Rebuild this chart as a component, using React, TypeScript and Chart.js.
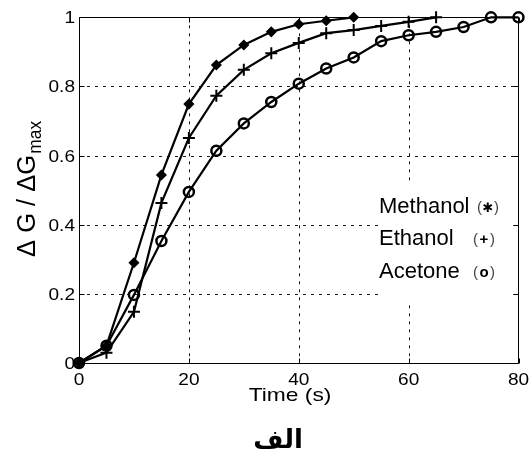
import React, { useEffect, useRef } from "react";
import { Chart, registerables } from "chart.js";

Chart.register(...registerables);

// ---------- data ----------
const timeMethanol = [0, 5, 10, 15, 20, 25, 30, 35, 40, 45, 50];
const methanol = [0, 0.05, 0.29, 0.544, 0.749, 0.862, 0.92, 0.958, 0.98, 0.99, 1.0];

const timeEthanol = [0, 5, 10, 15, 20, 25, 30, 35, 40, 45, 50, 55, 60, 65];
const ethanol = [0, 0.03, 0.148, 0.463, 0.651, 0.773, 0.848, 0.896, 0.926, 0.954, 0.963, 0.975, 0.987, 1.0];

const timeAcetone = [0, 5, 10, 15, 20, 25, 30, 35, 40, 45, 50, 55, 60, 65, 70, 75, 80];
const acetone = [0, 0.05, 0.197, 0.353, 0.495, 0.614, 0.693, 0.755, 0.808, 0.852, 0.884, 0.931, 0.948, 0.958, 0.972, 1.0, 1.0];

const xTicks = [0, 20, 40, 60, 80];
const xTickLabels = ["0", "20", "40", "60", "80"];
const yTicks = [0, 0.2, 0.4, 0.6, 0.8, 1];
const yTickLabels = ["0", "0.2", "0.4", "0.6", "0.8", "1"];

const xTitle = "Time (s)";
const yTitleMain = "Δ G / ΔG";
const yTitleSub = "max";
const legendNames = ["Methanol", "Ethanol", "Acetone"];
const legendSymbols = ["✱", "+", "o"];
const caption = "الف";

// ---------- helpers ----------
const FONT = '"Liberation Sans", Arial, sans-serif';

function drawText(
  ctx: CanvasRenderingContext2D,
  text: string,
  x: number,
  y: number,
  font: string,
  align: "left" | "center" | "right",
  sx = 1,
  color = "#000"
) {
  ctx.save();
  ctx.font = font;
  const w = ctx.measureText(text).width * sx;
  let left = x;
  if (align === "center") left = x - w / 2;
  else if (align === "right") left = x - w;
  ctx.translate(left, y);
  ctx.scale(sx, 1);
  ctx.textAlign = "left";
  ctx.textBaseline = "alphabetic";
  ctx.fillStyle = color;
  ctx.fillText(text, 0, 0);
  ctx.restore();
}

const decorPlugin = {
  id: "decor",
  beforeDatasetsDraw(chart: any) {
    const { ctx, chartArea: a, scales } = chart;
    const xs = scales.x;
    const ys = scales.y;
    ctx.save();
    // dotted grid
    ctx.strokeStyle = "#1a1a1a";
    ctx.lineWidth = 1;
    ctx.setLineDash([3, 5]);
    xTicks.forEach((v) => {
      if (v === xs.min || v === xs.max) return;
      const px = Math.round(xs.getPixelForValue(v)) + 0.5;
      ctx.beginPath();
      ctx.moveTo(px, a.top);
      ctx.lineTo(px, a.bottom);
      ctx.stroke();
    });
    yTicks.forEach((v) => {
      if (v === ys.min || v === ys.max) return;
      const py = Math.round(ys.getPixelForValue(v)) + 0.5;
      ctx.beginPath();
      ctx.moveTo(a.left, py);
      ctx.lineTo(a.right, py);
      ctx.stroke();
    });
    ctx.setLineDash([]);
    // legend box (white, hides grid)
    ctx.fillStyle = "#fff";
    ctx.fillRect(378, 185, a.right - 378 - 5, 116);
    // legend text
    const rowsY = [212.5, 245, 278];
    const symX = [488, 484, 484];
    legendNames.forEach((n, i) => {
      drawText(ctx, n, 379, rowsY[i], `22px ${FONT}`, "left");
      const cx = symX[i];
      const by = rowsY[i] - 1;
      drawText(ctx, "(", cx - 6, by, `15px ${FONT}`, "right", 1, "#444");
      drawText(ctx, ")", cx + 6, by, `15px ${FONT}`, "left", 1, "#444");
      drawText(
        ctx,
        legendSymbols[i],
        cx,
        by,
        i === 0 ? `bold 13px "DejaVu Sans", sans-serif` : `bold 15px ${FONT}`,
        "center",
        1,
        "#000"
      );
    });
    ctx.restore();
  },
  afterDatasetsDraw(chart: any) {
    const { ctx, chartArea: a, scales } = chart;
    const xs = scales.x;
    const ys = scales.y;
    ctx.save();
    ctx.strokeStyle = "#000";
    ctx.lineWidth = 1;
    const L = Math.round(a.left) + 0.5;
    const R = Math.round(a.right) - 0.5;
    const T = Math.round(a.top) + 0.5;
    const B = Math.round(a.bottom) + 0.5;
    ctx.beginPath();
    ctx.rect(L, T, R - L, B - T);
    ctx.stroke();
    // inward ticks
    const tl = 5;
    xTicks.forEach((v) => {
      const px = Math.round(xs.getPixelForValue(v)) + 0.5;
      ctx.beginPath();
      ctx.moveTo(px, B);
      ctx.lineTo(px, B - tl);
      ctx.moveTo(px, T);
      ctx.lineTo(px, T + tl);
      ctx.stroke();
    });
    yTicks.forEach((v) => {
      const py = Math.round(ys.getPixelForValue(v)) + 0.5;
      ctx.beginPath();
      ctx.moveTo(L, py);
      ctx.lineTo(L + tl, py);
      ctx.moveTo(R, py);
      ctx.lineTo(R - tl, py);
      ctx.stroke();
    });
    ctx.restore();
  },
  afterDraw(chart: any) {
    const { ctx, chartArea: a, scales } = chart;
    const xs = scales.x;
    const ys = scales.y;
    // tick labels
    xTicks.forEach((v, i) => {
      drawText(ctx, xTickLabels[i], xs.getPixelForValue(v), 385, `17px ${FONT}`, "center", 1.12);
    });
    yTicks.forEach((v, i) => {
      drawText(ctx, yTickLabels[i], a.left - 4, ys.getPixelForValue(v) + 6, `17px ${FONT}`, "right", 1.12);
    });
    // x title
    drawText(ctx, xTitle, 290, 401, `19px ${FONT}`, "center", 1.2);
    // y title with subscript
    ctx.save();
    const mainFont = `22px ${FONT}`;
    const subFont = `15px ${FONT}`;
    ctx.font = mainFont;
    const mw = ctx.measureText(yTitleMain).width;
    ctx.font = subFont;
    const sw = ctx.measureText(yTitleSub).width;
    const along = 135 / (mw + sw);
    const across = 1.2;
    ctx.translate(35, 257);
    ctx.rotate(-Math.PI / 2);
    ctx.scale(along, across);
    ctx.fillStyle = "#000";
    ctx.textAlign = "left";
    ctx.textBaseline = "alphabetic";
    ctx.font = mainFont;
    ctx.fillText(yTitleMain, 0, 0);
    ctx.font = subFont;
    ctx.fillText(yTitleSub, mw + 1, 6 / across);
    ctx.restore();
    // caption
    ctx.save();
    ctx.font = `bold 26px "DejaVu Sans", sans-serif`;
    ctx.fillStyle = "#000";
    ctx.textAlign = "center";
    ctx.textBaseline = "alphabetic";
    ctx.direction = "rtl";
    ctx.fillText(caption, 278, 448);
    ctx.restore();
  },
};

function toPoints(xv: number[], yv: number[]) {
  return xv.map((x, i) => ({ x, y: yv[i] }));
}

export default function App() {
  const ref = useRef<HTMLCanvasElement | null>(null);

  useEffect(() => {
    if (!ref.current) return;
    const common = {
      borderColor: "#000",
      borderWidth: 2.2,
      tension: 0,
      clip: false as any,
      fill: false,
    };
    const chart = new Chart(ref.current, {
      type: "line",
      data: {
        datasets: [
          {
            ...common,
            label: legendNames[0],
            data: toPoints(timeMethanol, methanol),
            pointStyle: "rectRot",
            pointRadius: 4.5,
            pointBackgroundColor: "#000",
            pointBorderColor: "#000",
            pointBorderWidth: 1.5,
          },
          {
            ...common,
            label: legendNames[1],
            data: toPoints(timeEthanol, ethanol),
            pointStyle: "cross",
            pointRadius: 6,
            pointBorderColor: "#000",
            pointBorderWidth: 2,
          },
          {
            ...common,
            label: legendNames[2],
            data: toPoints(timeAcetone, acetone),
            pointStyle: "circle",
            pointRadius: 5,
            pointBackgroundColor: "rgba(255,255,255,0)",
            pointBorderColor: "#000",
            pointBorderWidth: 2.5,
          },
        ],
      },
      options: {
        animation: false,
        responsive: false,
        events: [],
        layout: { padding: { left: 79, right: 11.5, top: 17.3, bottom: 91 } },
        plugins: { legend: { display: false }, tooltip: { enabled: false }, title: { display: false } },
        scales: {
          x: { type: "linear", min: 0, max: 80, display: false },
          y: { type: "linear", min: 0, max: 1, display: false },
        },
      },
      plugins: [decorPlugin],
    });
    return () => chart.destroy();
  }, []);

  return (
    <div style={{ position: "fixed", left: 0, top: 0, width: 530, height: 454, background: "#fff" }}>
      <canvas ref={ref} width={530} height={454} style={{ display: "block", width: 530, height: 454 }} />
    </div>
  );
}
